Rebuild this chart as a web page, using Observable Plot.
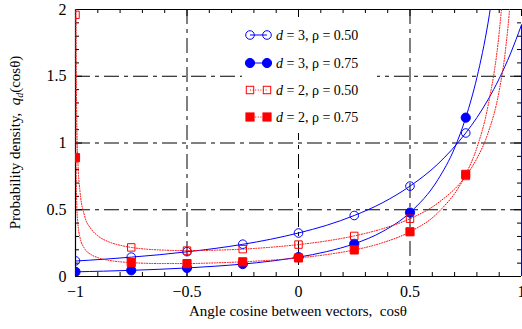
<!DOCTYPE html>
<html><head><meta charset="utf-8">
<script src="https://cdn.jsdelivr.net/npm/d3@7"></script>
<script src="https://cdn.jsdelivr.net/npm/@observablehq/plot@0.6"></script>
<style>html,body{margin:0;padding:0;background:#fff;}</style>
</head><body><div id="chart"></div>
<script>
// ---- data ----
const markerX = [-1, -0.75, -0.5, -0.25, 0, 0.25, 0.5, 0.75];
const d3r50Marks = [0.117, 0.145, 0.186, 0.242, 0.326, 0.457, 0.677, 1.075];
const d3r75Marks = [0.035, 0.046, 0.064, 0.093, 0.145, 0.245, 0.479, 1.19];
const d2r50Marks = [1.96, 0.218, 0.194, 0.205, 0.239, 0.304, 0.433, 0.753];
const d2r75Marks = [0.89, 0.104, 0.097, 0.110, 0.139, 0.199, 0.335, 0.765];

const d3r50CurveX = [-1, -0.875, -0.75, -0.625, -0.5, -0.375, -0.25, -0.125, 0, 0.125, 0.25, 0.375, 0.5, 0.625, 0.75, 0.8, 0.85, 0.9, 0.95, 1];
const d3r50CurveY = [0.116, 0.129, 0.145, 0.163, 0.185, 0.210, 0.241, 0.279, 0.326, 0.383, 0.457, 0.551, 0.677, 0.843, 1.075, 1.19, 1.325, 1.482, 1.667, 1.885];
const d3r75CurveX = [-1, -0.875, -0.75, -0.625, -0.5, -0.375, -0.25, -0.125, 0, 0.125, 0.25, 0.375, 0.5, 0.625, 0.7, 0.75, 0.8, 0.85, 0.875];
const d3r75CurveY = [0.035, 0.040, 0.046, 0.054, 0.064, 0.077, 0.093, 0.115, 0.145, 0.186, 0.245, 0.335, 0.479, 0.725, 0.962, 1.19, 1.49, 1.90, 2.17];
const d2CurveX = [-0.9999, -0.9995, -0.998, -0.995, -0.99, -0.98, -0.96, -0.93, -0.9, -0.85, -0.8, -0.75, -0.625, -0.5, -0.375, -0.25, -0.125, 0, 0.125, 0.25, 0.375, 0.5, 0.625, 0.75, 0.8, 0.85, 0.9, 0.93, 0.95, 0.97];
const d2r50CurveY = [8.9, 3.98, 1.99, 1.264, 0.897, 0.639, 0.459, 0.356, 0.305, 0.259, 0.234, 0.218, 0.199, 0.194, 0.197, 0.205, 0.219, 0.239, 0.266, 0.304, 0.357, 0.433, 0.550, 0.753, 0.884, 1.075, 1.392, 1.723, 2.088, 2.76];
const d2r75CurveY = [4.07, 1.82, 0.910, 0.577, 0.410, 0.293, 0.211, 0.164, 0.141, 0.121, 0.110, 0.104, 0.097, 0.097, 0.102, 0.110, 0.122, 0.139, 0.164, 0.199, 0.252, 0.335, 0.478, 0.765, 0.965, 1.279, 1.828, 2.42, 3.0, 3.6];

const xTickValues = [-1, -0.5, 0, 0.5, 1];
const yTickValues = [0, 0.5, 1, 1.5, 2];
const xGridValues = [-0.5, 0, 0.5];
const yGridValues = [0.5, 1, 1.5];
const xLabel = "Angle cosine between vectors,  cosθ";
const yLabelParts = ["Probability density,  ", "q", "d", "(cosθ)"];
const legendLabels = [" = 3, ρ = 0.50", " = 3, ρ = 0.75", " = 2, ρ = 0.50", " = 2, ρ = 0.75"];

// ---- styles ----
const W = 522, H = 329, ML = 75, MR = 1, MT = 9, MB = 53;
const FH = H - MT - MB, FW = W - ML - MR;
const FONT = "'Liberation Serif', 'Times New Roman', serif";
const BLUE = "#0000ff", RED = "#ff0000";
const GRID_DASH = "15,5,4,5";
const DOT_DASH = "1,1.6";

const seriesDefs = [
  {cx: d3r50CurveX, cy: d3r50CurveY, my: d3r50Marks, color: BLUE, filled: false, symbol: "circle", dotted: false, r: 4.3},
  {cx: d3r75CurveX, cy: d3r75CurveY, my: d3r75Marks, color: BLUE, filled: true, symbol: "circle", dotted: false, r: 4.6},
  {cx: d2CurveX, cy: d2r50CurveY, my: d2r50Marks, color: RED, filled: false, symbol: "square", dotted: true, r: 4.2},
  {cx: d2CurveX, cy: d2r75CurveY, my: d2r75Marks, color: RED, filled: true, symbol: "square", dotted: true, r: 4.6}
];

const fmt = d => (d < 0 ? "\u2212" : "") + Math.abs(d);
const xMinor = d3.range(-10, 11).map(i => i / 10).filter(v => Math.abs(v * 2 - Math.round(v * 2)) > 1e-9);
const yMinor = d3.range(0, 21).map(i => i / 10).filter(v => Math.abs(v * 2 - Math.round(v * 2)) > 1e-9);

const marks = [
  Plot.ruleX(xGridValues, {x: d => d, stroke: "black", strokeWidth: 1, strokeDasharray: GRID_DASH}),
  Plot.ruleY(yGridValues, {y: d => d, stroke: "black", strokeWidth: 1, strokeDasharray: GRID_DASH}),
  Plot.tickX(xMinor, {x: d => d, insetTop: FH - 4, stroke: "black"}),
  Plot.tickX(xMinor, {x: d => d, insetBottom: FH - 4, stroke: "black"}),
  Plot.tickX(xTickValues, {x: d => d, insetTop: FH - 7, stroke: "black"}),
  Plot.tickX(xTickValues, {x: d => d, insetBottom: FH - 7, stroke: "black"}),
  Plot.tickY(yMinor, {y: d => d, insetRight: FW - 4, stroke: "black"}),
  Plot.tickY(yMinor, {y: d => d, insetLeft: FW - 4, stroke: "black"}),
  Plot.tickY(yTickValues, {y: d => d, insetRight: FW - 7, stroke: "black"}),
  Plot.tickY(yTickValues, {y: d => d, insetLeft: FW - 7, stroke: "black"}),
  Plot.ruleX([-1], {x: d => d, stroke: "black", strokeWidth: 1.2}),
  Plot.ruleY([0, 2], {y: d => d, stroke: "black", strokeWidth: 1.2}),
  Plot.axisX({ticks: xTickValues, tickSize: 0, tickPadding: 9, tickFormat: fmt, label: null, fontSize: 16}),
  Plot.axisY({ticks: yTickValues, tickSize: 0, tickPadding: 9, tickFormat: fmt, label: null, fontSize: 16})
];

seriesDefs.forEach(s => {
  const pts = s.cx.map((x, i) => ({x, y: s.cy[i]}));
  marks.push(Plot.line(pts, {x: "x", y: "y", stroke: s.color, strokeWidth: 1,
    strokeDasharray: s.dotted ? DOT_DASH : null, curve: "monotone-x", clip: true}));
});
marks.push(Plot.ruleX([{x: d3r50CurveX[d3r50CurveX.length - 1], y: d3r50CurveY[d3r50CurveY.length - 1]}],
  {x: "x", y1: 0, y2: "y", stroke: BLUE, strokeWidth: 1}));

seriesDefs.forEach(s => {
  const pts = markerX.map((x, i) => ({x, y: s.my[i]}));
  marks.push(Plot.dot(pts, {x: "x", y: "y", r: s.r, symbol: s.symbol,
    stroke: s.color, strokeWidth: 1, fill: s.filled ? s.color : "none", clip: true}));
});

const chart = Plot.plot({
  width: W, height: H,
  marginLeft: ML, marginRight: MR, marginTop: MT, marginBottom: MB,
  x: {domain: [-1, 1]},
  y: {domain: [0, 2]},
  style: {fontFamily: FONT, fontSize: "16px", background: "white", color: "black", overflow: "visible"},
  marks
});
document.getElementById("chart").appendChild(chart);

// ---- titles and legend ----
const svg = d3.select(chart);
const xs = chart.scale("x");

svg.append("text")
  .attr("x", xs.apply(0)).attr("y", 316)
  .attr("text-anchor", "middle").attr("font-size", 15).attr("font-family", FONT)
  .style("white-space", "pre").text(xLabel);

const yt = svg.append("text")
  .attr("transform", `translate(20,${(MT + H - MB) / 2}) rotate(-90)`)
  .attr("text-anchor", "middle").attr("font-size", 15).attr("font-family", FONT)
  .style("white-space", "pre");
yt.append("tspan").text(yLabelParts[0]);
yt.append("tspan").attr("font-style", "italic").text(yLabelParts[1]);
yt.append("tspan").attr("font-style", "italic").attr("font-size", 10).attr("dy", 3).text(yLabelParts[2]);
yt.append("tspan").attr("dy", -3).text(yLabelParts[3]);

const LEG = {x0: 242, y0: 17, w: 135, h: 116, rows: [35, 63, 90, 117], m1: 250, m2: 267, tx: 276};
const lg = svg.append("g");
lg.append("rect").attr("x", LEG.x0).attr("y", LEG.y0).attr("width", LEG.w).attr("height", LEG.h).attr("fill", "white");
seriesDefs.forEach((s, i) => {
  const yy = LEG.rows[i];
  lg.append("line").attr("x1", LEG.m1).attr("x2", LEG.m2).attr("y1", yy).attr("y2", yy)
    .attr("stroke", s.color).attr("stroke-width", 1).attr("stroke-dasharray", s.dotted ? DOT_DASH : null);
  [LEG.m1, LEG.m2].forEach(mx => {
    if (s.symbol === "circle") {
      lg.append("circle").attr("cx", mx).attr("cy", yy).attr("r", s.r)
        .attr("fill", s.filled ? s.color : "none").attr("stroke", s.color);
    } else {
      const side = s.r * Math.sqrt(Math.PI);
      lg.append("rect").attr("x", mx - side / 2).attr("y", yy - side / 2).attr("width", side).attr("height", side)
        .attr("fill", s.filled ? s.color : "none").attr("stroke", s.color);
    }
  });
  const t = lg.append("text").attr("x", LEG.tx).attr("y", yy).attr("dy", "0.35em")
    .attr("text-anchor", "start")
    .attr("font-size", 14).attr("font-family", FONT).style("white-space", "pre");
  t.append("tspan").attr("font-style", "italic").text("d");
  t.append("tspan").text(legendLabels[i]);
});
</script></body></html>
